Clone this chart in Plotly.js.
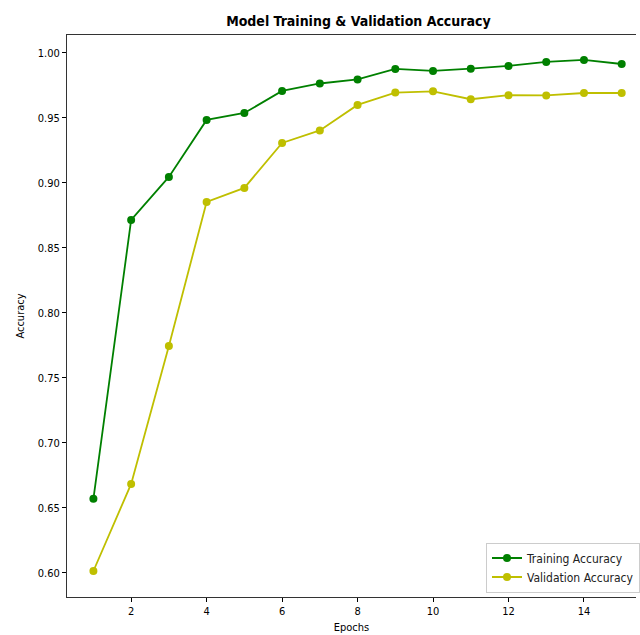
<!DOCTYPE html>
<html>
<head>
<meta charset="utf-8">
<script src="https://cdn.plot.ly/plotly-3.0.1.min.js"></script>
<style>html,body{margin:0;padding:0;overflow:hidden;background:#fff}</style>
</head>
<body>
<div id="chart" style="width:640px;height:635px"></div>
<script>
const epochs = [1,2,3,4,5,6,7,8,9,10,11,12,13,14,15];
const trainingAccuracy = [0.657,0.8715,0.9046,0.9485,0.9538,0.9708,0.9765,0.9796,0.9877,0.9862,0.9879,0.9900,0.9931,0.9946,0.9915];
const validationAccuracy = [0.6015,0.6685,0.7746,0.8854,0.8962,0.9308,0.9404,0.9600,0.9695,0.9705,0.9644,0.9675,0.9673,0.9692,0.9692];
const xTicks = [2,4,6,8,10,12,14];
const yTicks = [0.60,0.65,0.70,0.75,0.80,0.85,0.90,0.95,1.00];

const font = "DejaVu Sans Condensed, DejaVu Sans, sans-serif";

const traces = [
  {x: epochs, y: trainingAccuracy, name: "Training Accuracy", type: "scatter", mode: "lines+markers",
   line: {color: "#008000", width: 1.8}, marker: {color: "#008000", size: 8}},
  {x: epochs, y: validationAccuracy, name: "Validation Accuracy", type: "scatter", mode: "lines+markers",
   line: {color: "#bfbf00", width: 1.8}, marker: {color: "#bfbf00", size: 8}}
];

const layout = {
  width: 640, height: 635,
  margin: {l: 67, r: 0, t: 35, b: 38, pad: 0},
  paper_bgcolor: "#fff", plot_bgcolor: "#fff",
  font: {family: font, size: 11, color: "#000"},
  title: {text: "Model Training & Validation Accuracy", x: 0.56, xanchor: "center", y: 0.967, yanchor: "middle",
          font: {family: font, size: 14, color: "#000", weight: "bold"}},
  xaxis: {
    range: [0.3, 0.3 + 573/38], tickvals: xTicks, ticktext: xTicks.map(String),
    showgrid: false, zeroline: false, showline: true, mirror: true, linecolor: "#333", linewidth: 1,
    ticks: "outside", ticklen: 4, tickcolor: "#000", tickfont: {size: 11, family: font},
    title: {text: "Epochs", font: {size: 11, family: font}, standoff: 6}
  },
  yaxis: {
    range: [0.5815, 1.0138], tickvals: yTicks, ticktext: yTicks.map(v => v.toFixed(2)),
    showgrid: false, zeroline: false, showline: true, mirror: false, linecolor: "#333", linewidth: 1,
    ticks: "outside", ticklen: 4, tickcolor: "#000", tickfont: {size: 11, family: font},
    title: {text: "Accuracy", font: {size: 11, family: font}, standoff: 10}
  },
  legend: {x: 0.7365, y: 0.008, xanchor: "left", yanchor: "bottom",
           bgcolor: "rgba(255,255,255,0.8)", bordercolor: "#ccc", borderwidth: 1,
           font: {size: 12, family: font, color: "#222"}, tracegroupgap: 0},
  showlegend: true
};

Plotly.newPlot("chart", traces, layout, {displayModeBar: false, staticPlot: true});
</script>
</body>
</html>
